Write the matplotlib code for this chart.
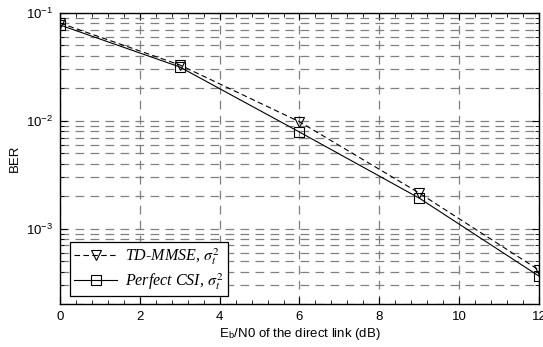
import matplotlib
matplotlib.use("Agg")
import matplotlib.pyplot as plt
from matplotlib.ticker import LogLocator, AutoMinorLocator, NullFormatter

plt.rcParams['font.family'] = ['Liberation Sans', 'DejaVu Sans']
plt.rcParams['mathtext.fontset'] = 'stix'

snr_db = [0, 3, 6, 9, 12]
ber_td_mmse = [0.0807, 0.0330, 0.0098, 0.00214, 0.000413]
ber_perfect = [0.0774, 0.0316, 0.00787, 0.00192, 0.000363]
labels = [r"TD-MMSE, $\sigma_t^2$", r"Perfect CSI, $\sigma_t^2$"]

fig = plt.figure(figsize=(5.43, 3.47), dpi=100)
ax = fig.add_axes([0.1105, 0.1239, 0.882, 0.8386])

ax.semilogy(snr_db, ber_td_mmse, linestyle=(0, (5, 3)), color='black', lw=0.8,
            marker='v', markersize=7, markerfacecolor='none', markeredgecolor='black',
            markeredgewidth=0.8, label=labels[0])
ax.semilogy(snr_db, ber_perfect, linestyle='-', color='black', lw=0.8,
            marker='s', markersize=7, markerfacecolor='none', markeredgecolor='black',
            markeredgewidth=0.8, label=labels[1])

ax.set_xlim(0, 12)
ax.set_ylim(2e-4, 1e-1)
ax.set_xticks([0, 2, 4, 6, 8, 10, 12])
ax.xaxis.set_minor_locator(AutoMinorLocator(5))
ax.yaxis.set_major_locator(LogLocator(base=10, numticks=10))
ax.yaxis.set_minor_locator(LogLocator(base=10, subs=range(2, 10), numticks=20))
ax.yaxis.set_minor_formatter(NullFormatter())

ax.grid(True, which='major', axis='both', linestyle=(0, (7, 5)), color='#808080', lw=0.9)
ax.grid(True, which='minor', axis='y', linestyle=(0, (7, 5)), color='#808080', lw=0.9)
ax.tick_params(which='both', direction='in', top=True, right=True, labelsize=9.5, colors='black')
ax.tick_params(which='major', length=5, pad=5)
ax.tick_params(which='minor', length=3)
for s in ax.spines.values():
    s.set_linewidth(1.0)

ax.set_ylabel('BER', fontsize=9.5, labelpad=4)
ax.set_xlabel(r'E$_\mathregular{b}$/N0 of the direct link (dB)', fontsize=9.5, labelpad=2)

leg = ax.legend(loc='lower left', bbox_to_anchor=(0.021, 0.027), fancybox=False,
                edgecolor='black', framealpha=1, handlelength=2.7, handletextpad=0.5,
                prop={'family': 'Liberation Serif', 'style': 'italic', 'size': 11.5},
                borderpad=0.25, labelspacing=0.3, borderaxespad=0)
leg.get_frame().set_linewidth(0.9)

fig.savefig('out.png', dpi=100)
